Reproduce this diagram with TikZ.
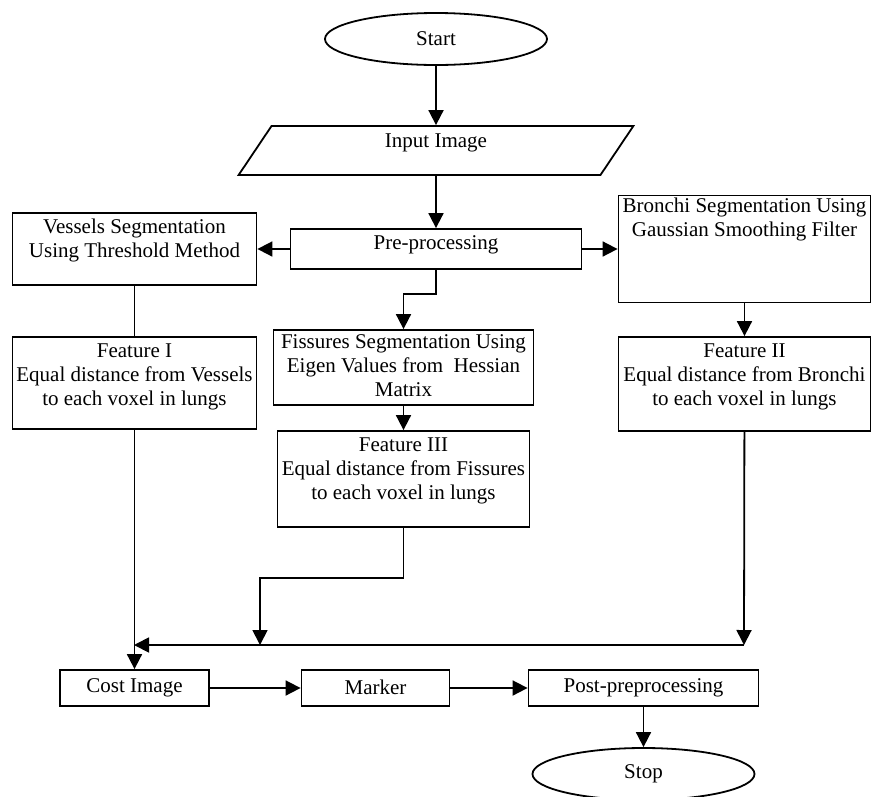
\documentclass[tikz,border=0pt]{standalone}
\usepackage{fontspec}
\setmainfont{Liberation Serif}
\usepackage{tikz}
\usetikzlibrary{shapes.geometric, arrows.meta}
\tikzstyle{startstop} = [ellipse, draw=black, line width=1.8pt, minimum width=222pt, minimum height=52pt, inner sep=0pt]
\tikzstyle{io} = [trapezium, trapezium left angle=31.5, trapezium right angle=148.5, trapezium stretches=true, minimum width=395pt, minimum height=49pt, draw=black, line width=1.8pt]
\tikzstyle{process} = [rectangle, draw=black, line width=1.8pt, inner sep=0pt]
\tikzstyle{arrow} = [line width=1.8pt, -{Triangle[length=15pt,width=15pt]}]
\tikzstyle{connector} = [line width=1.8pt]
\newcommand{\boxtext}[4][4pt]{\parbox[c][#3][t]{#2}{\centering\vspace{#1}\begin{tabular}{@{}c@{}}#4\end{tabular}}}

\begin{document}
\begin{tikzpicture}[x=1pt, y=1pt, node distance=60pt, font=\fontsize{21}{24}\selectfont]
                \useasboundingbox (0,0) rectangle (871,-796);
                \node (start) [startstop] at (436,-39) {Start};
                \node (input) [io, below of = start, yshift=-51.5pt] {\raisebox{3pt}[0pt][0pt]{Input Image}};
                \node (pre) [process, below of = input, yshift=-38.5pt] {\boxtext{291pt}{40pt}{Pre-processing}};

% ---------------------------------------------
% Left and right branches
% ---------------------------------------------
                \node (vessels) [process, left of = pre, xshift=-241.5pt] {\boxtext{244pt}{72pt}{Vessels Segmentation\\Using Threshold Method}};
                \node (bronchi) [process, right of = pre, xshift=248.5pt] {\boxtext[0pt]{252pt}{107pt}{Bronchi Segmentation Using\\Gaussian Smoothing Filter}};

                \node (feat1) [process, below of = vessels, yshift=-74pt] {\boxtext{244pt}{92pt}{Feature I\\Equal distance from Vessels\\to each voxel in lungs}};
                \node (feat2) [process, below of = bronchi, yshift=-75pt] {\boxtext{252pt}{94pt}{Feature II\\Equal distance from Bronchi\\to each voxel in lungs}};

% ---------------------------------------------
% Middle branch
% ---------------------------------------------
                \node (fiss) [process, below of = pre, xshift=-32.5pt, yshift=-58.5pt] {\boxtext[2pt]{260pt}{75pt}{Fissures Segmentation Using\\Eigen Values from~ Hessian\\Matrix}};
                \node (feat3) [process, below of = fiss, yshift=-51.5pt] {\boxtext{252pt}{96pt}{Feature III\\Equal distance from Fissures\\to each voxel in lungs}};

% ---------------------------------------------
% Bottom row
% ---------------------------------------------
                \node (cost) [process, minimum width=149pt, minimum height=36pt, below of = feat1, yshift=-245pt] {\raisebox{2pt}{Cost Image}};
                \node (marker) [process, minimum width=148pt, minimum height=36pt, right of = cost, xshift=181pt] {\raisebox{2pt}{Marker}};
                \node (post) [process, minimum width=230pt, minimum height=36pt, right of = marker, xshift=208pt] {\raisebox{2pt}{Post-preprocessing}};
                \node (stop) [startstop, below of = post, yshift=-26pt] {Stop};

                \coordinate (joinr) at (744,-645);
                \coordinate (joinm) at (260,-645);
                \coordinate (joinl) at (134,-645);

% ---------------------------------------------
% All arrows
% ---------------------------------------------
                \draw [arrow] (start) -- (input);
                \draw [arrow] (input) -- (pre);
                \draw [arrow] (pre) -- (vessels);
                \draw [arrow] (pre) -- (bronchi);
                \draw [arrow] (pre.south) -- ++(0,-24) -| (fiss.north);
                \draw [connector] (vessels) -- (feat1);
                \draw [arrow] (bronchi) -- (feat2);
                \draw [arrow] (fiss) -- (feat3);
                \draw [arrow] (feat1) -- (cost);
                \draw [arrow] (feat2) -- (joinr);
                \draw [arrow] (joinr) -- (joinl);
                \draw [arrow] (feat3.south) -- ++(0,-50) -| (joinm);
                \draw [arrow] (cost) -- (marker);
                \draw [arrow] (marker) -- (post);
                \draw [arrow] (post) -- (stop);
            \end{tikzpicture}
\end{document}
